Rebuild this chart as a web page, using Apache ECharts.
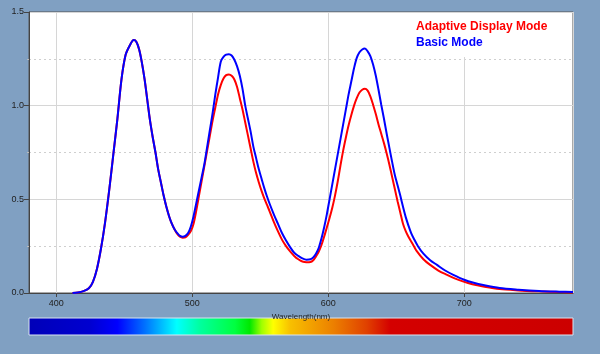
<!DOCTYPE html>
<html>
<head>
<meta charset="utf-8">
<script src="https://cdn.jsdelivr.net/npm/echarts@6/dist/echarts.min.js"></script>
<style>
  html, body { margin: 0; padding: 0; background: #80a0c2; }
  #main { width: 600px; height: 354px; }
</style>
</head>
<body>
<div id="main"></div>
<script>
// wavelength (nm) and spectral value
var basicNm = [412, 416, 420, 424, 427, 430, 433, 436, 439, 442, 445, 448, 451, 454, 457, 459, 461, 463, 465, 467,
    469, 471, 473, 475, 477, 479, 481, 483, 485, 487, 489, 491, 493, 495, 497, 499, 501, 503, 505, 507,
    509, 511, 513, 515, 517, 519, 521, 523, 525, 527, 529, 531, 533, 535, 537, 539, 541, 543, 545, 547,
    549, 551, 553, 555, 557, 560, 563, 566, 569, 572, 575, 578, 581, 584, 587, 589, 591, 593, 595, 597,
    599, 601, 603, 605, 607, 609, 611, 613, 615, 617, 619, 621, 623, 625, 627, 629, 631, 633, 635, 637,
    639, 641, 643, 645, 647, 649, 651, 653, 655, 657, 659, 661, 663, 666, 670, 675, 680, 686, 692, 700,
    707, 714, 726, 740, 755, 770, 780];
var basicVal = [0, 0.003, 0.01, 0.025, 0.06, 0.13, 0.24, 0.38, 0.55, 0.74, 0.93, 1.14, 1.27, 1.32, 1.35, 1.34, 1.30, 1.23, 1.14, 1.03,
    0.92, 0.83, 0.75, 0.66, 0.59, 0.52, 0.46, 0.41, 0.37, 0.34, 0.32, 0.305, 0.30, 0.305, 0.32, 0.355, 0.41, 0.48, 0.55, 0.62,
    0.69, 0.78, 0.87, 0.96, 1.06, 1.15, 1.235, 1.26, 1.272, 1.275, 1.268, 1.245, 1.21, 1.16, 1.09, 1.00, 0.93, 0.86, 0.78, 0.72,
    0.66, 0.61, 0.56, 0.515, 0.475, 0.42, 0.37, 0.32, 0.28, 0.245, 0.215, 0.198, 0.185, 0.178, 0.18, 0.19, 0.21, 0.24, 0.29, 0.35,
    0.42, 0.50, 0.58, 0.66, 0.74, 0.82, 0.90, 0.98, 1.06, 1.13, 1.20, 1.255, 1.285, 1.30, 1.305, 1.29, 1.265, 1.22, 1.16, 1.085,
    1.005, 0.93, 0.85, 0.775, 0.70, 0.63, 0.575, 0.52, 0.46, 0.405, 0.36, 0.32, 0.29, 0.25, 0.21, 0.175, 0.15, 0.12, 0.097, 0.071,
    0.055, 0.043, 0.027, 0.018, 0.011, 0.007, 0.005];

var adaptiveNm = [412, 416, 420, 424, 427, 430, 433, 436, 439, 442, 445, 448, 451, 454, 457, 459, 461, 463, 465, 467,
    469, 471, 473, 475, 477, 479, 481, 483, 485, 487, 489, 491, 493, 495, 497, 499, 501, 503, 505, 507,
    509, 511, 513, 515, 517, 519, 521, 523, 525, 527, 529, 531, 533, 535, 537, 539, 541, 543, 545, 547,
    549, 551, 553, 555, 557, 560, 563, 566, 569, 572, 575, 578, 581, 584, 587, 589, 591, 593, 595, 597,
    599, 601, 603, 605, 607, 609, 611, 613, 615, 617, 619, 621, 623, 625, 627, 629, 631, 633, 635, 637,
    639, 641, 643, 645, 647, 649, 651, 653, 655, 657, 659, 661, 663, 665, 670, 675, 681, 687, 693, 699,
    706, 714, 726, 740, 755, 770, 780];
var adaptiveVal = [0, 0.003, 0.01, 0.025, 0.06, 0.13, 0.24, 0.38, 0.55, 0.74, 0.93, 1.14, 1.27, 1.32, 1.35, 1.34, 1.30, 1.23, 1.14, 1.03,
    0.92, 0.83, 0.75, 0.66, 0.59, 0.52, 0.46, 0.41, 0.37, 0.34, 0.315, 0.30, 0.295, 0.297, 0.31, 0.33, 0.37, 0.44, 0.52, 0.60,
    0.68, 0.76, 0.84, 0.92, 0.99, 1.06, 1.11, 1.145, 1.163, 1.167, 1.16, 1.14, 1.10, 1.04, 0.98, 0.91, 0.84, 0.77, 0.70, 0.64,
    0.59, 0.545, 0.505, 0.47, 0.435, 0.38, 0.33, 0.285, 0.25, 0.222, 0.198, 0.18, 0.168, 0.164, 0.165, 0.175, 0.195, 0.22, 0.255, 0.30,
    0.35, 0.40, 0.455, 0.52, 0.595, 0.68, 0.76, 0.83, 0.895, 0.95, 1.0, 1.04, 1.07, 1.085, 1.09, 1.08, 1.05, 1.005, 0.955, 0.90,
    0.85, 0.80, 0.745, 0.685, 0.62, 0.555, 0.49, 0.43, 0.37, 0.33, 0.30, 0.275, 0.25, 0.225, 0.18, 0.15, 0.12, 0.098, 0.078, 0.062,
    0.047, 0.035, 0.021, 0.014, 0.009, 0.005, 0.003];

var seriesNames = ['Adaptive Display Mode', 'Basic Mode'];
var seriesColors = ['#ff0000', '#0000ff'];

function pairs(xs, ys) {
    var out = [];
    for (var i = 0; i < xs.length; i++) {
        out.push([xs[i], ys[i]]);
    }
    return out;
}

var myChart = echarts.init(document.getElementById('main'));

var option = {
    backgroundColor: '#80a0c2',
    animation: false,
    textStyle: { fontFamily: 'Liberation Sans, Arial, sans-serif' },
    grid: {
        left: 29,
        top: 12,
        width: 544,
        height: 281,
        show: true,
        backgroundColor: '#ffffff',
        borderColor: '#555555',
        borderWidth: 1
    },
    xAxis: {
        type: 'value',
        min: 380,
        max: 780,
        splitNumber: 4,
        name: 'Wavelength(nm)',
        nameLocation: 'middle',
        nameGap: 14,
        nameTextStyle: { fontSize: 8, color: '#222' },
        axisLine: { lineStyle: { color: '#444', width: 1 } },
        axisTick: { length: 4, lineStyle: { color: '#444' } },
        axisLabel: {
            fontSize: 9,
            color: '#222',
            margin: 6,
            showMinLabel: false,
            showMaxLabel: false
        },
        splitLine: { show: true, lineStyle: { color: '#d6d6d6', width: 1 } }
    },
    yAxis: {
        type: 'value',
        min: 0,
        max: 1.5,
        interval: 0.5,
        axisLine: { show: true, lineStyle: { color: '#444', width: 1 } },
        axisTick: { show: true, length: 5, lineStyle: { color: '#444' } },
        minorTick: { show: true, splitNumber: 2, length: 2, lineStyle: { color: '#bbb' } },
        minorSplitLine: { show: true, lineStyle: { color: '#cfcfcf', type: [2, 3] } },
        axisLabel: {
            fontSize: 9,
            color: '#222',
            margin: 5,
            formatter: function (v) { return v.toFixed(1); }
        },
        splitLine: { show: true, lineStyle: { color: '#d6d6d6', width: 1 } }
    },
    graphic: [
        {
            // white box behind the legend text, covers the grid lines
            type: 'rect',
            z: 1,
            shape: { x: 404, y: 13, width: 168, height: 44 },
            style: { fill: '#ffffff' }
        },
        {
            type: 'rect',
            shape: { x: 29, y: 318, width: 544, height: 17 },
            style: {
                stroke: '#d8e4f0',
                lineWidth: 1,
                fill: new echarts.graphic.LinearGradient(0, 0, 1, 0, [
                    { offset: 0, color: '#0000b8' },
                    { offset: 0.112, color: '#0000d0' },
                    { offset: 0.163, color: '#0000ff' },
                    { offset: 0.213, color: '#0070ff' },
                    { offset: 0.272, color: '#00ffff' },
                    { offset: 0.314, color: '#00ffa0' },
                    { offset: 0.379, color: '#00ff40' },
                    { offset: 0.406, color: '#00e800' },
                    { offset: 0.428, color: '#a0ff00' },
                    { offset: 0.449, color: '#ffff00' },
                    { offset: 0.48, color: '#f8c000' },
                    { offset: 0.559, color: '#ec8000' },
                    { offset: 0.621, color: '#e04000' },
                    { offset: 0.664, color: '#d40000' },
                    { offset: 1, color: '#cc0000' }
                ])
            }
        },
        {
            type: 'text',
            left: 416,
            top: 21,
            z: 3,
            style: {
                text: seriesNames[0],
                fill: seriesColors[0],
                font: 'bold 12px "Liberation Sans", Arial, sans-serif'
            }
        },
        {
            type: 'text',
            left: 416,
            top: 37,
            z: 3,
            style: {
                text: seriesNames[1],
                fill: seriesColors[1],
                font: 'bold 12px "Liberation Sans", Arial, sans-serif'
            }
        }
    ],
    series: [
        {
            name: seriesNames[0],
            type: 'line',
            z: 2,
            data: pairs(adaptiveNm, adaptiveVal),
            showSymbol: false,
            smooth: 0.3,
            lineStyle: { color: seriesColors[0], width: 2 },
            itemStyle: { color: seriesColors[0] }
        },
        {
            name: seriesNames[1],
            type: 'line',
            z: 2,
            data: pairs(basicNm, basicVal),
            showSymbol: false,
            smooth: 0.3,
            lineStyle: { color: seriesColors[1], width: 2 },
            itemStyle: { color: seriesColors[1] }
        }
    ]
};

myChart.setOption(option);
</script>
</body>
</html>
